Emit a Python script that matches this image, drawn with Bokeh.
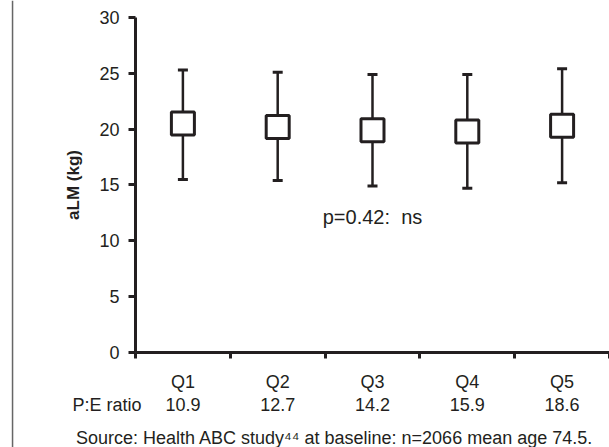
from bokeh.plotting import figure
from bokeh.models import LinearAxis, Range1d, FixedTicker, ColumnDataSource
from bokeh.embed import file_html
from bokeh.resources import INLINE
from bokeh.core.properties import value

# ---- data ----
quintiles = ["Q1", "Q2", "Q3", "Q4", "Q5"]
pe_ratio = ["10.9", "12.7", "14.2", "15.9", "18.6"]
alm_mean = [20.5, 20.2, 19.9, 19.8, 20.3]
alm_upper = [25.3, 25.1, 24.9, 24.9, 25.4]
alm_lower = [15.5, 15.4, 14.9, 14.7, 15.2]
y_ticks = [0, 5, 10, 15, 20, 25, 30]
row_label = "P:E ratio"
p_note = "p=0.42:\u00a0\u00a0ns"
source_note = "Source: Health ABC study\u2074\u2074 at baseline: n=2066 mean age 74.5."
y_label = "aLM (kg)"

DARK = "#231f20"
FONT = "Liberation Sans"

xc = [i + 0.5 for i in range(len(quintiles))]
src = ColumnDataSource(dict(x=xc, mean=alm_mean, up=alm_upper, lo=alm_lower,
                            q=quintiles, pe=pe_ratio))

p = figure(width=609, height=447, output_backend="svg", toolbar_location=None,
           x_range=Range1d(-1.424, 5.0), y_range=Range1d(-8.505, 31.52),
           x_axis_type=None, y_axis_type=None, min_border=0,
           outline_line_color=None, background_fill_color="white",
           border_fill_color="white")

yaxis = LinearAxis(fixed_location=0, bounds=(0, 30), ticker=FixedTicker(ticks=y_ticks),
                   axis_line_width=3, axis_line_color=DARK,
                   major_tick_line_width=3, major_tick_line_color=DARK,
                   major_tick_out=7, major_tick_in=0, minor_tick_line_color=None,
                   major_label_text_font=FONT, major_label_text_font_size="18px",
                   major_label_text_color=DARK, major_label_standoff=9,
                   axis_label=y_label, axis_label_text_font=FONT,
                   axis_label_text_font_style="bold", axis_label_text_font_size="17px",
                   axis_label_text_color=DARK, axis_label_standoff=13)
p.add_layout(yaxis, "left")

xaxis = LinearAxis(fixed_location=0, bounds=(0, 5), ticker=FixedTicker(ticks=[0, 1, 2, 3, 4, 5]),
                   axis_line_width=3, axis_line_color=DARK,
                   major_tick_line_width=3, major_tick_line_color=DARK,
                   major_tick_out=6, major_tick_in=0, minor_tick_line_color=None,
                   major_label_overrides={0: "", 1: "", 2: "", 3: "", 4: "", 5: ""})
p.add_layout(xaxis, "below")

# left border rule
p.segment(x0=[-1.297], y0=[-8.505], x1=[-1.297], y1=[31.52], line_color="#666666", line_width=1.5)

# whiskers
p.segment(x0="x", y0="lo", x1="x", y1="up", source=src, line_color=DARK, line_width=2.5)
p.scatter(x="x", y="up", source=src, marker="dash", size=10, line_color=DARK, line_width=3)
p.scatter(x="x", y="lo", source=src, marker="dash", size=10, line_color=DARK, line_width=3)
# mean boxes
p.scatter(x="x", y="mean", source=src, marker="square", size=23, fill_color="white",
          line_color=DARK, line_width=3)

# labels below axis
p.text(x="x", y=-2.6, text="q", source=src, text_align="center", text_baseline="middle",
       text_font=value(FONT), text_font_size="18px", text_color=DARK)
p.text(x="x", y=-4.66, text="pe", source=src, text_align="center", text_baseline="middle",
       text_font=value(FONT), text_font_size="18px", text_color=DARK)
p.text(x=[-0.665], y=[-4.66], text=[row_label], text_align="left", text_baseline="middle",
       text_font=value(FONT), text_font_size="18px", text_color=DARK)
p.text(x=[2.1], y=[-7.61], text=[source_note], text_align="center", text_baseline="middle",
       text_font=value(FONT), text_font_size="18px", text_color=DARK)
p.text(x=[2.5], y=[12.1], text=[p_note], text_align="center", text_baseline="middle",
       text_font=value(FONT), text_font_size="20px", text_color=DARK)

open("out.html", "w").write(file_html(p, INLINE))
